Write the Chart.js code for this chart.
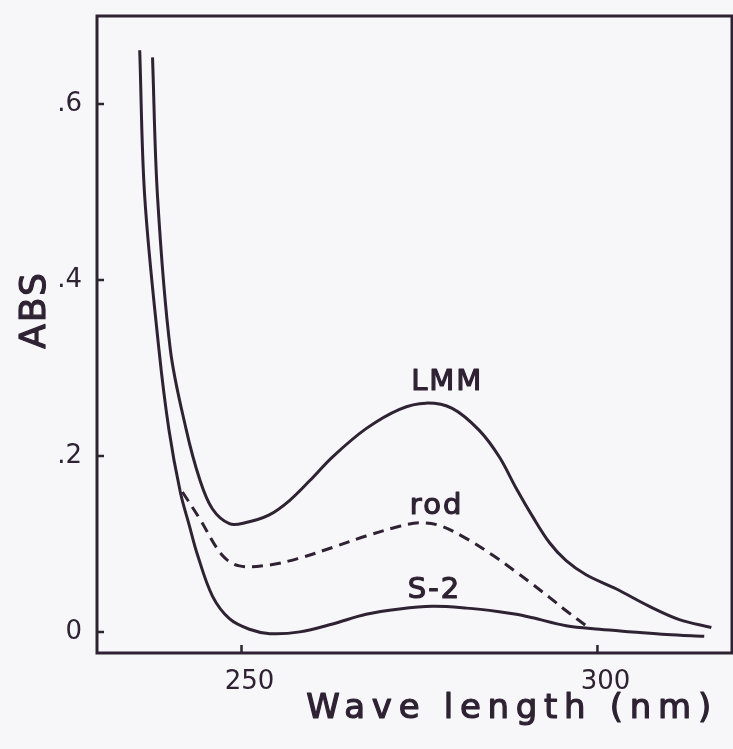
<!DOCTYPE html>
<html>
<head>
<meta charset="utf-8">
<title>ABS vs Wave length</title>
<script src="https://cdn.jsdelivr.net/npm/chart.js"></script>
<style>
  html, body { margin: 0; padding: 0; background: #f7f6f9; }
  canvas { display: block; }
</style>
</head>
<body>
<canvas id="absChart" width="733" height="749"></canvas>
<script>
// values (wavelength in nm, absorbance)
const lmmNm  = [237.5, 238.2, 240.0, 242.2, 244.1, 245.9, 248.3, 250.5, 253.9, 256.7, 259.6, 262.8, 267.5, 272.2, 275.9, 279.6, 283.4, 286.2, 288.6, 290.9, 293.3, 295.6, 298.4, 302.6, 307.3, 311.5, 316.0];
const lmmAbs = [0.653, 0.495, 0.321, 0.231, 0.174, 0.140, 0.123, 0.124, 0.133, 0.149, 0.172, 0.199, 0.231, 0.253, 0.260, 0.254, 0.229, 0.199, 0.163, 0.131, 0.101, 0.081, 0.065, 0.049, 0.029, 0.014, 0.005];

const rodNm  = [241.7, 244.1, 247.3, 249.7, 253.9, 258.2, 262.8, 267.5, 272.2, 275.0, 277.8, 281.6, 285.3, 288.6, 290.9, 293.3, 295.6, 298.6];
const rodAbs = [0.159, 0.129, 0.087, 0.075, 0.076, 0.084, 0.096, 0.109, 0.120, 0.124, 0.121, 0.106, 0.087, 0.068, 0.054, 0.039, 0.024, 0.006];

const s2Nm  = [235.7, 236.4, 238.4, 239.8, 241.4, 242.7, 243.8, 245.9, 248.3, 251.1, 254.0, 258.2, 262.8, 267.5, 272.2, 276.8, 281.6, 286.2, 288.6, 290.9, 295.6, 300.3, 304.9, 309.7, 315.0];
const s2Abs = [0.661, 0.495, 0.321, 0.230, 0.159, 0.120, 0.088, 0.041, 0.015, 0.003, -0.002, 0.000, 0.009, 0.020, 0.026, 0.029, 0.027, 0.023, 0.020, 0.016, 0.007, 0.003, 0.000, -0.003, -0.005];

const xTicks = [250, 300];
const yTicks = [0, 0.2, 0.4, 0.6];

// curve names and where they sit (data coords)
const curveNames = ['LMM', 'rod', 'S-2'];
const nameNm  = [278.9, 277.4, 277.1];
const nameAbs = [0.283, 0.142, 0.047];

const ink = '#2e2233';

const toPts = (xs, ys) => xs.map((x, i) => ({ x: x, y: ys[i] }));

const yLabel = v => (v === 0 ? '0' : '.' + Math.round(v * 10));

// fill + thin stroke gives a medium weight, like the plotter lettering
function heavyText(ctx, text, x, y) {
  ctx.fillText(text, x, y);
  ctx.strokeText(text, x, y);
}

const framePlugin = {
  id: 'frame',
  afterDraw(chart) {
    const { ctx, chartArea: a, scales } = chart;
    ctx.save();
    ctx.strokeStyle = ink;
    ctx.lineWidth = 3;
    ctx.strokeRect(a.left, a.top, a.right - a.left, a.bottom - a.top);

    // short ticks pointing into the plot
    ctx.lineWidth = 2.5;
    ctx.beginPath();
    yTicks.forEach(v => {
      const py = scales.y.getPixelForValue(v);
      ctx.moveTo(a.left, py);
      ctx.lineTo(a.left + 7, py);
    });
    xTicks.forEach(v => {
      const px = scales.x.getPixelForValue(v);
      ctx.moveTo(px, a.bottom);
      ctx.lineTo(px, a.bottom - 8);
    });
    ctx.stroke();

    ctx.fillStyle = ink;
    ctx.lineWidth = 1.2;
    ctx.lineJoin = 'round';
    ctx.textAlign = 'center';
    ctx.textBaseline = 'middle';

    // curve names
    ctx.font = '29px "DejaVu Sans"';
    ctx.letterSpacing = '2px';
    curveNames.forEach((t, i) => {
      heavyText(ctx, t, scales.x.getPixelForValue(nameNm[i]), scales.y.getPixelForValue(nameAbs[i]));
    });

    // axis titles
    ctx.font = '34px "DejaVu Sans"';
    ctx.letterSpacing = '6.7px';
    heavyText(ctx, 'Wave length (nm)', 512, 709);

    ctx.letterSpacing = '2px';
    ctx.font = '36px "DejaVu Sans"';
    ctx.translate(36, 310);
    ctx.rotate(-Math.PI / 2);
    heavyText(ctx, 'ABS', 0, 0);
    ctx.restore();
  }
};

const lineStyle = {
  borderColor: ink,
  borderWidth: 3,
  pointRadius: 0,
  fill: false,
  tension: 0.35
};

new Chart(document.getElementById('absChart'), {
  type: 'line',
  data: {
    datasets: [
      Object.assign({ label: 'LMM', data: toPts(lmmNm, lmmAbs) }, lineStyle),
      Object.assign({ label: 'rod', data: toPts(rodNm, rodAbs), borderDash: [11, 7] }, lineStyle),
      Object.assign({ label: 'S-2', data: toPts(s2Nm, s2Abs) }, lineStyle)
    ]
  },
  options: {
    responsive: false,
    animation: false,
    layout: { padding: { top: 16, right: 1, left: 0, bottom: 0 } },
    plugins: {
      legend: { display: false },
      title: { display: false },
      tooltip: { enabled: false }
    },
    scales: {
      x: {
        type: 'linear',
        min: 229.7,
        max: 318.9,
        grid: { display: false, drawTicks: false },
        border: { display: false },
        afterBuildTicks: s => { s.ticks = xTicks.map(v => ({ value: v })); },
        afterFit: s => { s.height = 96; s.paddingLeft = 0; s.paddingRight = 0; },
        ticks: {
          color: ink,
          font: { family: 'DejaVu Sans', size: 26 },
          padding: 14,
          labelOffset: 8,
          maxRotation: 0,
          callback: v => String(v)
        }
      },
      y: {
        type: 'linear',
        min: -0.024,
        max: 0.70,
        grid: { display: false, drawTicks: false },
        border: { display: false },
        afterBuildTicks: s => { s.ticks = yTicks.map(v => ({ value: v })); },
        afterFit: s => { s.width = 97; s.paddingTop = 0; s.paddingBottom = 0; },
        ticks: {
          color: ink,
          font: { family: 'DejaVu Sans', size: 26 },
          padding: 15,
          callback: v => yLabel(v)
        }
      }
    }
  },
  plugins: [framePlugin]
});
</script>
</body>
</html>
